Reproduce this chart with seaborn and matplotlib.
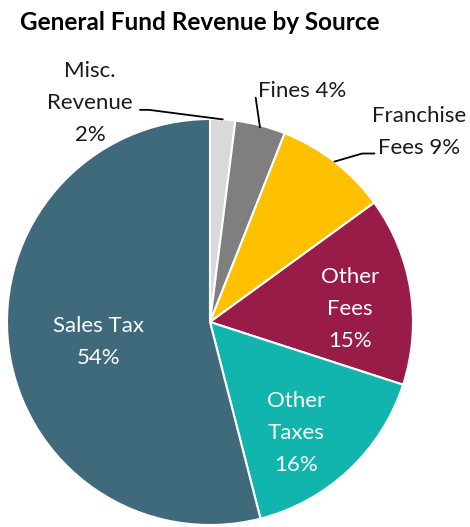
import numpy as np
import matplotlib
matplotlib.use("Agg")
import matplotlib.pyplot as plt
import seaborn as sns

# data, clockwise from 12 o'clock
sources = ["Misc.\nRevenue", "Fines", "Franchise\nFees", "Other\nFees", "Other\nTaxes", "Sales Tax"]
shares = [2, 4, 9, 15, 16, 54]
colors = ["#D9D9D9", "#7F7F7F", "#FFC000", "#981B48", "#12B5AE", "#3F6A7B"]

sns.set_style("white")
plt.rcParams['font.family'] = ['Lato', 'DejaVu Sans']

fig = plt.figure(figsize=(4.70, 5.27), dpi=100)
ax = fig.add_axes([0, 0, 1, 1])

wedges, _ = ax.pie(shares, colors=colors, startangle=90, counterclock=False,
                   radius=1.0, wedgeprops=dict(edgecolor="white", linewidth=1.5))

# pixel-consistent limits: centre at (210, 322) px, radius 203 px
r_px = 203.0
ax.set_xlim(-210 / r_px, 260 / r_px)
ax.set_ylim(-205 / r_px, 322 / r_px)
ax.set_aspect("auto")
ax.axis("off")


def mid(w):
    return np.deg2rad((w.theta1 + w.theta2) / 2)


fs = 16
ls = 1.75
# inside labels (positions in pie units)
inside_pos = {3: (0.69, 0.065), 4: (0.425, -0.545), 5: (-0.55, -0.10)}
for i, (x, y) in inside_pos.items():
    ax.text(x, y, f"{sources[i]}\n{shares[i]}%", ha="center", va="center",
            color="white", fontsize=fs, linespacing=ls)

# outside labels with leader lines
a = mid(wedges[0])
ax.text(-0.59, 1.08, f"{sources[0]}\n{shares[0]}%", ha="center", va="center",
        fontsize=fs, linespacing=ls, color="#1a1a1a")
ax.plot([-0.345, -0.30, np.cos(a)], [1.045, 1.045, np.sin(a)],
        color="black", lw=1.3)

a = mid(wedges[1])
ax.text(0.235, 1.14, f"{sources[1]} {shares[1]}%", ha="left", va="center",
        fontsize=fs, color="#1a1a1a")
ax.plot([0.225, np.cos(a) * 0.99], [1.105, np.sin(a) * 0.99], color="black", lw=1.3)

a = mid(wedges[2])
ax.text(1.03, 0.935, "Franchise\nFees 9%", ha="center", va="center",
        fontsize=fs, linespacing=ls, color="#1a1a1a")
ax.plot([0.81, 0.75, np.cos(a)], [0.83, 0.83, np.sin(a)],
        color="black", lw=1.3)

fig.text(20 / 470, 1 - 23 / 527, "General Fund Revenue by Source", fontsize=17.5,
         fontweight="bold", ha="left", va="center", color="black")

fig.savefig("out.png", dpi=100)
